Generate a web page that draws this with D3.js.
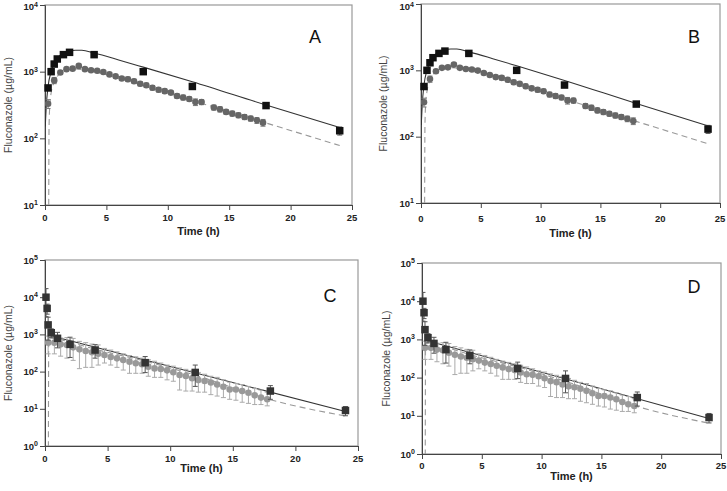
<!DOCTYPE html>
<html>
<head>
<meta charset="utf-8">
<script src="https://cdn.jsdelivr.net/npm/d3@7"></script>
<style>
  body { margin: 0; background: #fff; }
  svg { display: block; font-family: "Liberation Sans", Arial, sans-serif; }
</style>
</head>
<body>
<div id="chart"></div>
<script>
// ---- data ----
// panels A/B : oral dosing
var circTimesA = [0.25, 0.75, 1.25, 1.75, 2.25, 2.75, 3.25, 3.75, 4.25, 4.75, 5.25, 5.75, 6.25, 6.75, 7.25, 7.75, 8.25, 8.75,
    9.25, 9.75, 10.25, 10.75, 11.25, 11.75, 12.25, 12.75, 13.75, 14.25, 14.75, 15.25, 15.75, 16.25, 16.75, 17.25, 17.75];
var circA = [330, 740, 970, 1090, 1110, 1220, 1090, 1050, 1030, 990, 910, 850, 790, 770, 720, 660, 625, 575,
    535, 510, 485, 432, 410, 390, 350, 350, 290, 273, 249, 235, 222, 209, 198, 186, 172];
var circAsd = [50, 80, 60, 60, 60, 70, 60, 50, 50, 50, 50, 50, 50, 60, 50, 50, 45, 45,
    40, 40, 35, 35, 35, 30, 40, 30, 25, 25, 20, 20, 18, 18, 17, 18, 20];
var sqTimesA = [0.25, 0.5, 0.75, 1, 1.5, 2, 4, 8, 12, 18, 24];
var sqA = [570, 1000, 1300, 1550, 1800, 1950, 1800, 1000, 600, 310, 130];
var sqAsd = [0, 0, 0, 0, 0, 0, 0, 0, 0, 0, 18];
var solidTA = [0.02, 0.1, 0.25, 0.5, 0.75, 1, 1.5, 2, 2.5, 3, 4, 6, 8, 12, 18, 24];
var solidA = [150, 300, 600, 1000, 1350, 1600, 1900, 2050, 2100, 2100, 1900, 1500, 1170, 705, 316, 145];
var dashTA = [0.3, 0.33, 0.4, 0.5, 0.75, 1, 1.5, 2, 2.5, 3, 4, 6, 8, 12, 18, 24];
var dashA = [5, 150, 330, 480, 700, 850, 1000, 1080, 1100, 1080, 1000, 800, 620, 370, 170, 78];

// panels C/D : intravenous dosing
var circTimesC = [0.25, 0.75, 1.25, 1.75, 2.25, 2.75, 3.25, 3.75, 4.25, 4.75, 5.25, 5.75, 6.25, 6.75, 7.25, 7.75, 8.25, 8.75,
    9.25, 9.75, 10.25, 10.75, 11.25, 11.75, 12.25, 12.75, 13.25, 13.75, 14.25, 14.75, 15.25, 15.75, 16.25, 16.75, 17.25, 17.75];
var circC = [600, 600, 541, 519, 449, 397, 358, 330, 303, 279, 247, 227, 205, 185, 167, 157, 136, 122,
    118, 108, 96, 81, 76, 66, 59, 56, 51, 45, 39, 33, 33, 30, 27, 23, 20, 18];
var circChi = [900, 850, 800, 820, 780, 650, 600, 550, 520, 420, 380, 340, 300, 270, 250, 230, 210, 190,
    170, 150, 140, 125, 115, 105, 95, 85, 75, 70, 60, 52, 48, 45, 40, 35, 32, 28];
var circClo = [300, 300, 260, 230, 200, 120, 130, 130, 150, 170, 150, 130, 110, 90, 90, 90, 75, 70,
    70, 60, 55, 32, 30, 30, 28, 28, 24, 22, 20, 18, 17, 15, 14, 13, 13, 12];
var sqTimesC = [0.08, 0.17, 0.25, 0.5, 1, 2, 4, 8, 12, 18, 24];
var sqC = [10000, 5000, 1800, 1110, 785, 540, 380, 174, 95, 30, 9];
var sqCsd = [7000, 1500, 1100, 300, 350, 300, 150, 80, 55, 12, 2.5];
var solidTC = [0.3, 24];
var solidC = [950, 8.5];
var dashTC = [0.27, 0.3, 1, 2, 4, 8, 12, 18, 24];
var dashC = [0.5, 820, 750, 620, 400, 190, 80, 17.5, 6.4];

var xTicks = [0, 5, 10, 15, 20, 25];
var xMinor = d3.range(0, 26, 1);

var panels = [
    {letter: "A", x0: 45, x1: 352, y0: 5, y1: 205, dMin: 1, dMax: 4, lx: 315, ly: 43, tickY: 221, timeY: 235, ylabX: 8,
        ct: circTimesA, cv: circA, chi: circA.map(function (d, i) { return d + circAsd[i]; }), clo: circA.map(function (d, i) { return d - circAsd[i]; }),
        st: sqTimesA, sv: sqA, ssd: sqAsd, solT: solidTA, sol: solidA, dashT: dashTA, dash: dashA, iv: false},
    {letter: "B", x0: 421, x1: 720, y0: 4, y1: 203, dMin: 1, dMax: 4, lx: 694, ly: 43, tickY: 222, timeY: 237, ylabX: 383,
        ct: circTimesA, cv: circA, chi: circA.map(function (d, i) { return d + circAsd[i]; }), clo: circA.map(function (d, i) { return d - circAsd[i]; }),
        st: sqTimesA, sv: sqA, ssd: sqAsd, solT: solidTA, sol: solidA, dashT: dashTA, dash: dashA, iv: false},
    {letter: "C", x0: 45, x1: 358, y0: 260, y1: 446, dMin: 0, dMax: 5, lx: 330, ly: 302, tickY: 462, timeY: 472, ylabX: 8,
        ct: circTimesC, cv: circC, chi: circChi, clo: circClo,
        st: sqTimesC, sv: sqC, ssd: sqCsd, solT: solidTC, sol: solidC, dashT: dashTC, dash: dashC, iv: true},
    {letter: "D", x0: 422, x1: 721, y0: 263, y1: 454, dMin: 0, dMax: 5, lx: 694, ly: 293, tickY: 469, timeY: 480, ylabX: 386,
        ct: circTimesC, cv: circC, chi: circChi, clo: circClo,
        st: sqTimesC, sv: sqC, ssd: sqCsd, solT: solidTC, sol: solidC, dashT: dashTC, dash: dashC, iv: true}
];

var svg = d3.select("#chart").append("svg")
    .attr("width", 727)
    .attr("height", 491);

panels.forEach(function (p, pi) {
    var x = d3.scaleLinear().domain([0, 25]).range([p.x0, p.x1]);
    var y = d3.scaleLog().domain([Math.pow(10, p.dMin), Math.pow(10, p.dMax)]).range([p.y1, p.y0]);
    var g = svg.append("g");

    // clip area
    var clipId = "clip" + pi;
    g.append("clipPath").attr("id", clipId)
        .append("rect")
        .attr("x", p.x0).attr("y", p.y0)
        .attr("width", p.x1 - p.x0).attr("height", p.y1 - p.y0);

    // frame
    g.append("rect")
        .attr("x", p.x0).attr("y", p.y0)
        .attr("width", p.x1 - p.x0).attr("height", p.y1 - p.y0)
        .attr("fill", "none").attr("stroke", "#999").attr("stroke-width", 1.2);

    // x axis
    var xa = g.append("g").attr("transform", "translate(0," + p.y1 + ")");
    xa.call(d3.axisBottom(x).tickValues(xMinor).tickSize(3).tickFormat(""));
    xa.call(d3.axisBottom(x).tickValues(xTicks).tickSize(5).tickFormat(""));
    xa.selectAll("path, line").attr("stroke", "#444");

    g.selectAll(".xlab")
        .data(xTicks)
        .enter().append("text")
        .attr("x", function (d) { return x(d); })
        .attr("y", p.tickY)
        .attr("text-anchor", "middle")
        .attr("font-size", "9.5px")
        .attr("font-weight", "bold")
        .attr("fill", "#222")
        .text(function (d) { return d; });

    // y axis: decades + minor ticks
    var decades = d3.range(p.dMin, p.dMax + 1);
    var minors = [];
    decades.slice(0, -1).forEach(function (e) {
        for (var k = 2; k < 10; k++) minors.push(k * Math.pow(10, e));
    });
    var ya = g.append("g").attr("transform", "translate(" + p.x0 + ",0)");
    ya.call(d3.axisLeft(y).tickValues(minors).tickSize(3).tickFormat(""));
    ya.call(d3.axisLeft(y).tickValues(decades.map(function (e) { return Math.pow(10, e); })).tickSize(5).tickFormat(""));
    ya.selectAll("path, line").attr("stroke", "#444");

    var yl = g.selectAll(".ylab")
        .data(decades)
        .enter().append("text")
        .attr("x", p.x0 - 7)
        .attr("y", function (d) { return Math.max(y(Math.pow(10, d)) + 3.5, 10); })
        .attr("text-anchor", "end")
        .attr("font-size", "9.5px")
        .attr("font-weight", "bold")
        .attr("fill", "#222");
    yl.append("tspan").text("10");
    yl.append("tspan").attr("dy", -3.5).attr("font-size", "7px").text(function (d) { return d; });

    // axis titles
    g.append("text")
        .attr("x", (p.x0 + p.x1) / 2)
        .attr("y", p.timeY)
        .attr("text-anchor", "middle")
        .attr("font-size", "11px")
        .attr("font-weight", "bold")
        .attr("fill", "#222")
        .text("Time (h)");

    g.append("text")
        .attr("transform", "translate(" + (p.ylabX + 4) + "," + ((p.y0 + p.y1) / 2) + ") rotate(-90)")
        .attr("text-anchor", "middle")
        .attr("font-size", "10.5px")
        .attr("fill", "#444")
        .text("Fluconazole (\u00b5g/mL)");

    // panel letter
    g.append("text")
        .attr("x", p.lx).attr("y", p.ly)
        .attr("text-anchor", "middle")
        .attr("font-size", "18px")
        .attr("fill", "#111")
        .text(p.letter);

    var plot = g.append("g").attr("clip-path", "url(#" + clipId + ")");

    // model lines
    var line = d3.line()
        .x(function (d) { return x(d[0]); })
        .y(function (d) { return y(d[1]); })
        .curve(d3.curveMonotoneX);

    plot.append("path")
        .datum(p.dashT.map(function (t, i) { return [t, p.dash[i]]; }))
        .attr("d", line)
        .attr("fill", "none")
        .attr("stroke", "#999")
        .attr("stroke-width", 1.1)
        .attr("stroke-dasharray", "6,4");

    plot.append("path")
        .datum(p.solT.map(function (t, i) { return [t, p.sol[i]]; }))
        .attr("d", line)
        .attr("fill", "none")
        .attr("stroke", "#333")
        .attr("stroke-width", 1.1);

    // circle error bars
    var circColor = p.iv ? "#999" : "#666";
    var barColor = p.iv ? "#aaa" : "#777";
    var cData = p.ct.map(function (t, i) { return {t: t, v: p.cv[i], hi: p.chi[i], lo: p.clo[i]}; });
    var eb = plot.selectAll(".ebc").data(cData).enter().append("g");
    eb.append("line")
        .attr("x1", function (d) { return x(d.t); }).attr("x2", function (d) { return x(d.t); })
        .attr("y1", function (d) { return y(d.lo); }).attr("y2", function (d) { return y(d.hi); })
        .attr("stroke", barColor);
    eb.append("line")
        .attr("x1", function (d) { return x(d.t) - 2.5; }).attr("x2", function (d) { return x(d.t) + 2.5; })
        .attr("y1", function (d) { return y(d.hi); }).attr("y2", function (d) { return y(d.hi); })
        .attr("stroke", barColor);
    eb.append("line")
        .attr("x1", function (d) { return x(d.t) - 2.5; }).attr("x2", function (d) { return x(d.t) + 2.5; })
        .attr("y1", function (d) { return y(d.lo); }).attr("y2", function (d) { return y(d.lo); })
        .attr("stroke", barColor);

    plot.selectAll(".circ").data(cData).enter().append("circle")
        .attr("cx", function (d) { return x(d.t); })
        .attr("cy", function (d) { return y(d.v); })
        .attr("r", 3.3)
        .attr("fill", circColor);

    // squares with error bars
    var sqColor = p.iv ? "#333" : "#111";
    var sData = p.st.map(function (t, i) { return {t: t, v: p.sv[i], sd: p.ssd[i]}; });
    var sb = plot.selectAll(".ebs").data(sData.filter(function (d) { return d.sd > 0; })).enter().append("g");
    sb.append("line")
        .attr("x1", function (d) { return x(d.t); }).attr("x2", function (d) { return x(d.t); })
        .attr("y1", function (d) { return y(Math.max(d.v - d.sd, 0.01)); }).attr("y2", function (d) { return y(d.v + d.sd); })
        .attr("stroke", "#555");
    [1, -1].forEach(function (s) {
        sb.append("line")
            .attr("x1", function (d) { return x(d.t) - 2.5; }).attr("x2", function (d) { return x(d.t) + 2.5; })
            .attr("y1", function (d) { return y(Math.max(d.v + s * d.sd, 0.01)); })
            .attr("y2", function (d) { return y(Math.max(d.v + s * d.sd, 0.01)); })
            .attr("stroke", "#555");
    });

    g.selectAll(".sq").data(sData).enter().append("rect")
        .attr("x", function (d) { return x(d.t) - 3.75; })
        .attr("y", function (d) { return y(d.v) - 3.75; })
        .attr("width", 7.5)
        .attr("height", 7.5)
        .attr("fill", sqColor);
});
</script>
</body>
</html>
